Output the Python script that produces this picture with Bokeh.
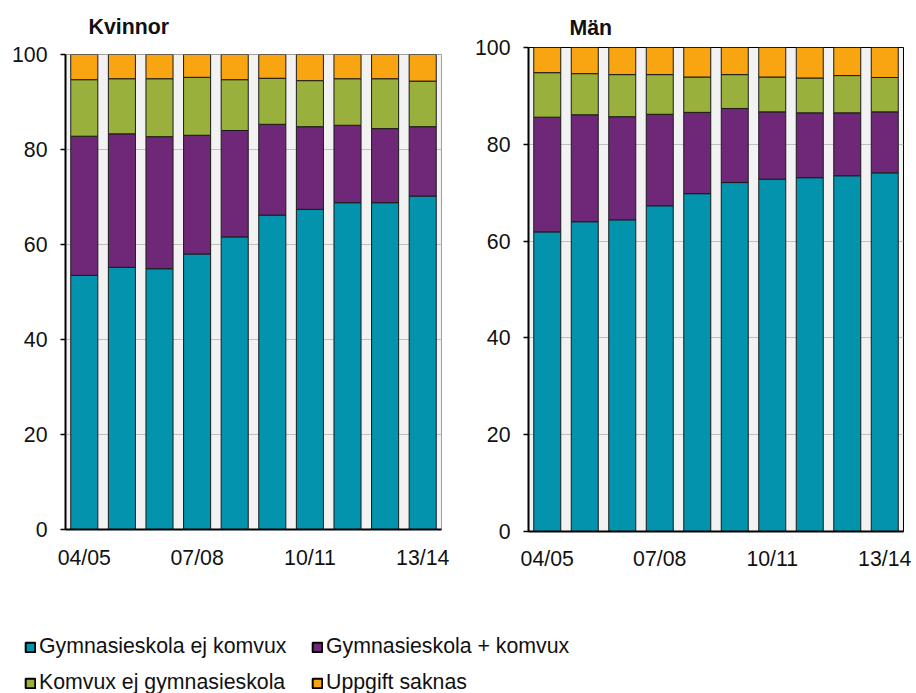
from bokeh.plotting import figure
from bokeh.layouts import column, row
from bokeh.models import ColumnDataSource, FixedTicker, Range1d, Legend, LegendItem
from bokeh.embed import file_html
from bokeh.resources import INLINE

years = ["04/05", "05/06", "06/07", "07/08", "08/09", "09/10", "10/11", "11/12", "12/13", "13/14"]
shown_years = ["04/05", "07/08", "10/11", "13/14"]
series = ["Gymnasieskola ej komvux", "Gymnasieskola + komvux", "Komvux ej gymnasieskola", "Uppgift saknas"]
colors = ["#0393ad", "#6f2877", "#99b13c", "#f9a512"]

# Kvinnor
kv_gym = [53.5, 55.2, 54.9, 58.0, 61.6, 66.2, 67.4, 68.8, 68.8, 70.2]
kv_gym_komvux = [29.3, 28.1, 27.8, 25.0, 22.4, 19.1, 17.4, 16.3, 15.6, 14.6]
kv_komvux = [11.9, 11.6, 12.2, 12.2, 10.7, 9.7, 9.7, 9.8, 10.5, 9.6]
kv_saknas = [5.3, 5.1, 5.1, 4.8, 5.3, 5.0, 5.5, 5.1, 5.1, 5.6]

# Män
man_gym = [61.9, 64.0, 64.4, 67.3, 69.8, 72.1, 72.8, 73.1, 73.5, 74.1]
man_gym_komvux = [23.7, 22.1, 21.3, 18.9, 16.8, 15.3, 13.9, 13.4, 13.0, 12.6]
man_komvux = [9.2, 8.5, 8.7, 8.2, 7.3, 7.0, 7.2, 7.2, 7.7, 7.1]
man_saknas = [5.2, 5.4, 5.6, 5.6, 6.1, 5.6, 6.1, 6.3, 5.8, 6.2]

y_ticks = [0, 20, 40, 60, 80, 100]

FONT = "Liberation Sans"
FS = "21.3px"


def make_chart(title, vals, width, height, bl, br, bt, bb, title_offset, title_standoff,
               x_standoff, outline_color):
    idx = list(range(len(years)))
    src = ColumnDataSource(dict(x=idx, s0=vals[0], s1=vals[1], s2=vals[2], s3=vals[3]))
    p = figure(width=width, height=height, x_range=Range1d(-0.5, len(years) - 0.5),
               y_range=Range1d(0, 100), toolbar_location=None, output_backend="svg",
               min_border_left=bl, min_border_right=br, min_border_top=bt,
               min_border_bottom=bb, background_fill_color="#f2f2f2",
               border_fill_color="white", outline_line_color=outline_color)
    p.vbar_stack(["s0", "s1", "s2", "s3"], x="x", width=0.72, source=src,
                 fill_color=colors, line_color="#1a1a1a", line_width=1)
    p.title.text = title
    p.title.text_font = FONT
    p.title.text_font_size = FS
    p.title.text_font_style = "bold"
    p.title.text_color = "#111111"
    p.title.offset = title_offset
    p.title.standoff = title_standoff
    p.xgrid.visible = False
    p.ygrid.grid_line_color = "#c0c0c0"
    p.ygrid.ticker = FixedTicker(ticks=y_ticks)
    p.yaxis.ticker = FixedTicker(ticks=y_ticks)
    p.yaxis.minor_tick_line_color = None
    p.yaxis.major_tick_out = 5
    p.yaxis.major_tick_in = 0
    p.yaxis.major_tick_line_width = 1.5
    p.yaxis.major_label_standoff = 13
    p.xaxis.ticker = FixedTicker(ticks=[years.index(y) for y in shown_years])
    p.xaxis.major_label_overrides = {years.index(y): y for y in shown_years}
    p.xaxis.major_tick_line_color = None
    p.xaxis.minor_tick_line_color = None
    p.xaxis.major_label_standoff = x_standoff
    for ax in (p.xaxis, p.yaxis):
        ax.axis_line_color = "black"
        ax.axis_line_width = 2
        ax.major_label_text_font = FONT
        ax.major_label_text_font_size = FS
        ax.major_label_text_color = "#111111"
    return p


H = 575
p_kv = make_chart("Kvinnor", [kv_gym, kv_gym_komvux, kv_komvux, kv_saknas],
                  460, H, 65, 19, 54, H - 54 - 475, 23, 27, 10, "#a0a0a0")
p_kv.title.vertical_align = "top"
p_man = make_chart("Män", [man_gym, man_gym_komvux, man_komvux, man_saknas],
                   456, H, 68, 13, 47, H - 47 - 484, 41, 16, 9, "black")

lf = figure(width=916, height=693 - H, x_range=Range1d(1, 2), y_range=Range1d(1, 2),
            toolbar_location=None, output_backend="svg", min_border=0,
            outline_line_color=None)
lf.axis.visible = False
lf.grid.visible = False
rends = [lf.quad(left=[0], right=[0], top=[0], bottom=[0], fill_color=c,
                 line_color="black", line_width=2) for c in colors]

for r, loc in ((0, (24, 34)), (1, (24, -2))):
    items = [LegendItem(label=series[2 * r + k], renderers=[rends[2 * r + k]]) for k in range(2)]
    lg = Legend(items=items, orientation="horizontal", location=loc,
                glyph_width=12, glyph_height=12, label_standoff=3, label_width=268,
                spacing=4, padding=0, margin=0, border_line_color=None,
                background_fill_alpha=0, label_text_font=FONT, label_text_color="#111111",
                label_text_font_size=FS, label_height=24)
    lf.add_layout(lg)

layout = column(row(column(p_kv), column(p_man)), lf)

open("out.html", "w").write(file_html(layout, INLINE))
